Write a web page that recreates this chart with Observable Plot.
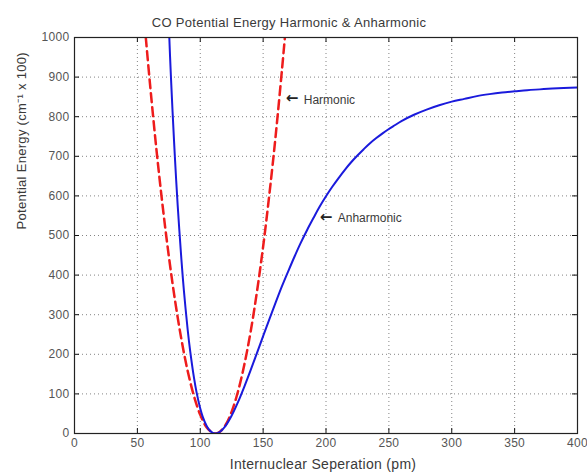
<!DOCTYPE html>
<html><head><meta charset="utf-8">
<script src="https://cdn.jsdelivr.net/npm/d3@7"></script>
<script src="https://cdn.jsdelivr.net/npm/@observablehq/plot@0.6"></script>
<style>body{margin:0;background:#fff} .lbl text{letter-spacing:0.3px}</style>
</head><body><div id="chart"></div>
<script>
const title = "CO Potential Energy Harmonic & Anharmonic";
const xLabel = "Internuclear Seperation (pm)";
const yLabel = "Potential Energy (cm\u207B\u00B9 x 100)";
const xTicks = [0, 50, 100, 150, 200, 250, 300, 350, 400];
const yTicks = [0, 100, 200, 300, 400, 500, 600, 700, 800, 900, 1000];

// Anharmonic (Morse) curve
const anharmR = [75.4, 76, 77, 78, 80, 82, 85, 87, 90, 92, 95, 97, 100, 102, 105, 107, 110, 112, 115, 120, 125, 130, 135, 140, 145, 150, 155, 160, 165, 170, 175, 180, 185, 190, 195, 200, 205, 210, 215, 220, 225, 230, 235, 240, 245, 250, 255, 260, 270, 280, 290, 300, 310, 320, 330, 340, 350, 360, 370, 380, 400];
const anharmV = [1000, 951, 879, 812, 688, 579, 440, 361, 262, 208, 141, 105, 63, 42, 19.5, 9.5, 1.4, 0, 2.9, 18.9, 45.3, 79.1, 118, 159.4, 202.5, 246, 289, 331, 372, 410, 447, 482, 514, 544, 573, 599, 623, 645, 666, 685, 702, 718, 733, 746, 758, 769, 779, 789, 805, 818, 829, 838, 845, 852, 857, 861, 864, 867, 869, 871, 874];

// Harmonic curve
const harmR = [56.7, 60, 65, 70, 75, 80, 85, 90, 95, 100, 105, 110, 112, 115, 120, 125, 130, 135, 140, 145, 150, 155, 160, 165, 167.3];
const harmV = [1000, 884, 722, 577, 448, 335, 238, 158, 94.5, 47, 16, 1.3, 0, 2.9, 20.9, 55.3, 106, 173, 256, 356, 472, 605, 753, 919, 1000];

const noteText = ["Harmonic", "Anharmonic"];
const noteR = [168, 195];
const noteV = [843, 543];

const anharm = anharmR.map((r, i) => ({r, v: anharmV[i]}));
const harm = harmR.map((r, i) => ({r, v: harmV[i]}));
const notes = noteText.map((t, i) => ({t, r: noteR[i], v: noteV[i]}));

const W = 587, H = 476, mL = 74, mR = 10, mT = 37, mB = 43;
const fw = W - mL - mR, fh = H - mT - mB;
const tickLen = 5;
const txt = "#3a3a3a";

const chart = Plot.plot({
  width: W, height: H,
  marginLeft: mL, marginRight: mR, marginTop: mT, marginBottom: mB,
  style: {fontFamily: "'Liberation Sans', Arial, sans-serif", fontSize: "12px", background: "#fff", color: "#444"},
  x: {domain: [0, 400], ticks: xTicks},
  y: {domain: [0, 1000], ticks: yTicks},
  marks: [
    Plot.gridX(xTicks, {stroke: "#777", strokeOpacity: 0.9, strokeDasharray: "1,3"}),
    Plot.gridY(yTicks, {stroke: "#777", strokeOpacity: 0.9, strokeDasharray: "1,3"}),
    Plot.line(harm, {x: "r", y: "v", stroke: "#ee1c1c", strokeWidth: 2.5, strokeDasharray: "9,5", curve: "catmull-rom", clip: true}),
    Plot.line(anharm, {x: "r", y: "v", stroke: "#1a1adc", strokeWidth: 2, curve: "catmull-rom", clip: true}),
    Plot.tickX(xTicks, {x: d => d, insetTop: fh - tickLen, stroke: "#111"}),
    Plot.tickX(xTicks, {x: d => d, insetBottom: fh - tickLen, stroke: "#111"}),
    Plot.tickY(yTicks, {y: d => d, insetRight: fw - tickLen, stroke: "#111"}),
    Plot.tickY(yTicks, {y: d => d, insetLeft: fw - tickLen, stroke: "#111"}),
    Plot.frame({stroke: "#222", strokeWidth: 1.2}),
    Plot.axisX(xTicks, {tickSize: 0, tickPadding: 5, label: null, fontSize: 12, fill: "#555", tickFormat: d => String(d), className: "lbl"}),
    Plot.axisY(yTicks, {tickSize: 0, tickPadding: 5, label: null, fontSize: 12, fill: "#555", tickFormat: d => String(d), className: "lbl"}),
    Plot.text(notes, {x: "r", y: "v", text: () => "\u2190", textAnchor: "start", fontSize: 15, fontWeight: "bold", fontFamily: "'DejaVu Sans', sans-serif", fill: "#222", dy: -1}),
    Plot.text(notes, {x: "r", y: "v", text: "t", textAnchor: "start", dx: 18, fontSize: 12, fill: txt}),
    Plot.text([title], {text: d => d, frameAnchor: "top", dy: -20, dx: -37, fontSize: 13, fill: txt, className: "lbl"}),
    Plot.text([xLabel], {text: d => d, frameAnchor: "bottom", dy: 35, dx: -3, fontSize: 14, fill: txt, className: "lbl"}),
    Plot.text([yLabel], {text: d => d, frameAnchor: "left", dx: -53, dy: -6, rotate: -90, fontSize: 13, fill: txt, className: "lbl"})
  ]
});
document.getElementById("chart").appendChild(chart);
</script>
</body></html>
